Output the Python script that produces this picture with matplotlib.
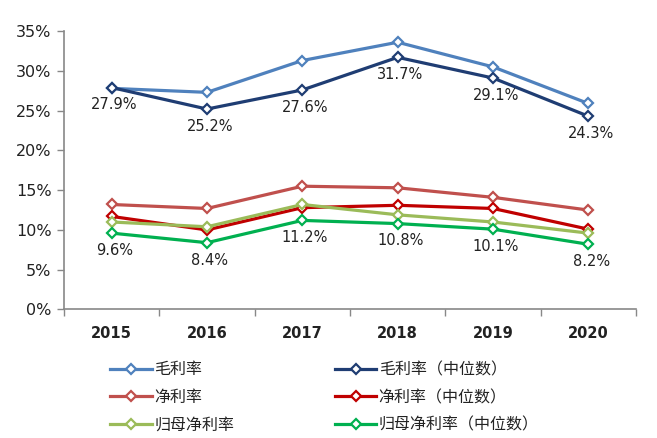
import matplotlib
matplotlib.use("Agg")
import matplotlib.pyplot as plt
import numpy as np

years = ["2015", "2016", "2017", "2018", "2019", "2020"]
gross = [27.8, 27.3, 31.3, 33.6, 30.5, 25.9]
gross_med = [27.9, 25.2, 27.6, 31.7, 29.1, 24.3]
net = [13.2, 12.7, 15.5, 15.3, 14.1, 12.5]
net_med = [11.7, 10.0, 12.8, 13.1, 12.7, 10.1]
attr = [11.0, 10.4, 13.2, 11.9, 11.0, 9.6]
attr_med = [9.6, 8.4, 11.2, 10.8, 10.1, 8.2]

series = [
    ("毛利率", gross, "#4F81BD"),
    ("毛利率（中位数）", gross_med, "#1F3D73"),
    ("净利率", net, "#C0504D"),
    ("净利率（中位数）", net_med, "#C00000"),
    ("归母净利率", attr, "#9BBB59"),
    ("归母净利率（中位数）", attr_med, "#00B050"),
]

plt.rcParams['font.family'] = ['Noto Sans CJK SC', 'DejaVu Sans']

fig = plt.figure(figsize=(6.57, 4.38), dpi=100)
ax = fig.add_axes([0.0974, 0.2934, 0.8706, 0.6356])

x = np.arange(len(years))
for name, vals, col in series:
    ax.plot(x, vals, color=col, lw=2.3, marker='D', ms=5.5, mfc='white',
            mec=col, mew=1.6, label=name)

# data labels for median series
for vals in (gross_med, attr_med):
    for i, v in enumerate(vals):
        ax.annotate(f"{v:.1f}%", (x[i], v), xytext=(2, -12.5), textcoords='offset points',
                    ha='center', va='center', fontsize=10.5, family='DejaVu Sans',
                    color='#222222')

ax.set_xlim(-0.5, 5.5)
ax.set_ylim(0, 35)
ax.set_yticks(np.arange(0, 36, 5))
ax.set_yticklabels([f"{t}%" for t in range(0, 36, 5)], fontsize=11.5,
                   family='DejaVu Sans', color='#222222')
ax.set_xticks(x)
ax.set_xticklabels(years, fontsize=10.5, fontweight='bold', family='DejaVu Sans',
                   color='#222222')
ax.set_xticks(np.arange(-0.5, 6, 1), minor=True)
ax.tick_params(axis='x', which='major', length=0, pad=12)
ax.tick_params(axis='x', which='minor', length=5, color='#888888', width=1)
ax.tick_params(axis='y', length=5, color='#888888', width=1, pad=4)

for s in ['top', 'right']:
    ax.spines[s].set_visible(False)
for s in ['left', 'bottom']:
    ax.spines[s].set_color('#888888')
    ax.spines[s].set_linewidth(1.2)

handles, labels = ax.get_legend_handles_labels()
order = [0, 2, 4, 1, 3, 5]
leg = fig.legend([handles[i] for i in order], [labels[i] for i in order],
                 ncol=2, loc='upper left', bbox_to_anchor=(0.158, 0.19),
                 frameon=False, handlelength=2.6, handletextpad=0.15,
                 columnspacing=6.3, labelspacing=0.68, borderaxespad=0,
                 prop={'size': 11.5, 'weight': 'medium'})
for t in leg.get_texts():
    t.set_color('#222222')

fig.savefig("out.png", dpi=100)
